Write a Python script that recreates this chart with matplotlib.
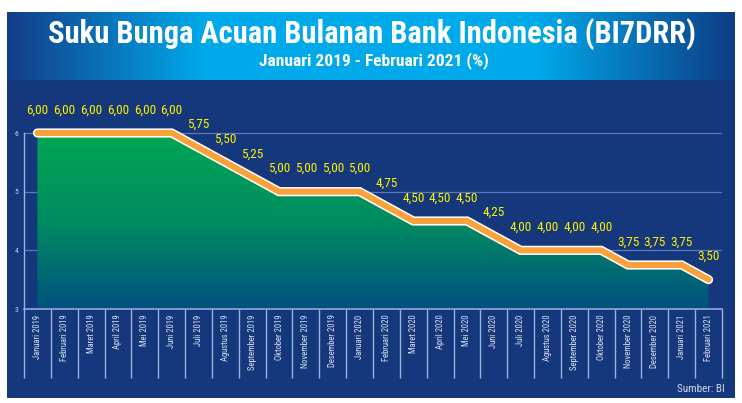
import matplotlib
matplotlib.use('Agg')
import matplotlib.pyplot as plt
import numpy as np
from matplotlib import font_manager
from matplotlib.colors import LinearSegmentedColormap
from matplotlib.patches import Rectangle, Polygon

# ---------------- data ----------------
months = ["Januari 2019", "Februari 2019", "Maret 2019", "April 2019", "Mei 2019",
          "Juni 2019", "Juli 2019", "Agustus 2019", "September 2019", "Oktober 2019",
          "November 2019", "Desember 2019", "Januari 2020", "Februari 2020",
          "Maret 2020", "April 2020", "Mei 2020", "Juni 2020", "Juli 2020",
          "Agustus 2020", "September 2020", "Oktober 2020", "November 2020",
          "Desember 2020", "Januari 2021", "Februari 2021"]
rates = [6.00, 6.00, 6.00, 6.00, 6.00, 6.00, 5.75, 5.50, 5.25, 5.00, 5.00, 5.00,
         5.00, 4.75, 4.50, 4.50, 4.50, 4.25, 4.00, 4.00, 4.00, 4.00, 3.75, 3.75,
         3.75, 3.50]
rate_labels = [f"{v:.2f}".replace(".", ",") for v in rates]
y_ticks = [3, 4, 5, 6]
title = "Suku Bunga Acuan Bulanan Bank Indonesia (BI7DRR)"
subtitle = "Januari 2019 - Februari 2021 (%)"
source = "Sumber: BI"

# ---------------- fonts ----------------
names = {f.name for f in font_manager.fontManager.ttflist}
narrow = None
for cand in ["Liberation Sans Narrow", "DejaVu Sans Condensed", "Roboto Condensed",
             "Open Sans Condensed", "Liberation Sans"]:
    if cand in names:
        narrow = cand
        break
if narrow is None:
    narrow = "DejaVu Sans"

W, H = 742, 403
navy = "#15387D"

fig = plt.figure(figsize=(W / 100, H / 100), dpi=100)
fig.patch.set_facecolor("white")

def fx(px):
    return px / W

def fy(py):
    return 1 - py / H

# panel background
fig.add_artist(Rectangle((fx(7), fy(398)), fx(735) - fx(7), fy(12) - fy(398),
                         transform=fig.transFigure, facecolor=navy,
                         edgecolor="none", zorder=0))

# title band gradient
band = fig.add_axes([fx(7), fy(80), fx(735) - fx(7), fy(12) - fy(80)])
band_cmap = LinearSegmentedColormap.from_list(
    "band", [(0, "#123E88"), (0.27, "#00A9EA"), (0.73, "#00A9EA"), (1, "#0E3D86")])
grad = np.linspace(0, 1, 512)[None, :]
band.imshow(grad, aspect="auto", cmap=band_cmap, extent=[0, 1, 0, 1])
band.set_axis_off()

fig.text(fx(372), fy(34), title, ha="center", va="center", fontsize=22,
         fontweight="bold", color="white", family=narrow)
fig.text(fx(374), fy(61), subtitle, ha="center", va="center", fontsize=12.5,
         fontweight="bold", color="white", family=narrow)

# main axes
px_per_unit = (309 - 133) / 3.0
ax = fig.add_axes([fx(24), fy(309), fx(722) - fx(24), fy(95) - fy(309)])
ax.set_facecolor("none")
ax.set_xlim(-0.5, len(months) - 0.5)
ax.set_ylim(3, 3 + (309 - 95) / px_per_unit)
for s in ax.spines.values():
    s.set_visible(False)

x = np.arange(len(months))

# grid lines
for v in y_ticks[1:]:
    ax.axhline(v, color="#5B79B5", lw=0.9, zorder=1)

# gradient fill under the line
fill_cmap = LinearSegmentedColormap.from_list("fill", ["#00517E", "#008C62", "#00A651"])
verts = [(x[0], 3)] + list(zip(x, rates)) + [(x[-1], 3)]
poly = Polygon(verts, closed=True, facecolor="none", edgecolor="none",
               transform=ax.transData)
ax.add_patch(poly)
g = np.linspace(0, 1, 256)[:, None]
im = ax.imshow(g, aspect="auto", cmap=fill_cmap, origin="lower",
               extent=[x[0], x[-1], 3, max(rates)], zorder=2)
im.set_clip_path(poly)

# line with white outline
ax.plot(x, rates, color="white", lw=6.6, solid_capstyle="round",
        solid_joinstyle="miter", zorder=4)
ax.plot(x, rates, color="#F9A23B", lw=4.4, solid_capstyle="round",
        solid_joinstyle="miter", zorder=5)

# value labels
for xi, v, s in zip(x, rates, rate_labels):
    ax.annotate(s, (xi, v), xytext=(0, 16.5), textcoords="offset points",
                ha="center", va="center", color="#FFF200", fontsize=9.5,
                family=narrow, zorder=6)

# bottom axis line and cell separators
axis_col = "#9CB4DC"
ax.axhline(3, color=axis_col, lw=1.1, zorder=3, clip_on=False)
ax.vlines(np.arange(len(months) + 1) - 0.5, -(378 - 309) / (309 - 95), 0,
          transform=ax.get_xaxis_transform(), colors=axis_col, lw=1.0,
          clip_on=False, zorder=3)
ax.plot([-0.5, -0.5], [3, 6], color=axis_col, lw=1.0, clip_on=False, zorder=3)

# ticks
ax.set_xticks(x)
ax.set_xticklabels(months, rotation=90, fontsize=6.2, color="#D8E0EE", family=narrow)
ax.set_yticks(y_ticks)
ax.set_yticklabels([str(t) for t in y_ticks], fontsize=5.5, color="#C8D2E6", family=narrow)
ax.tick_params(axis="x", length=0, pad=4)
ax.tick_params(axis="y", length=0, pad=4)

fig.text(fx(725), fy(389), source, ha="right", va="center", fontsize=8,
         color="#D0D8E8", family=narrow)

fig.savefig("out.png", dpi=100)
